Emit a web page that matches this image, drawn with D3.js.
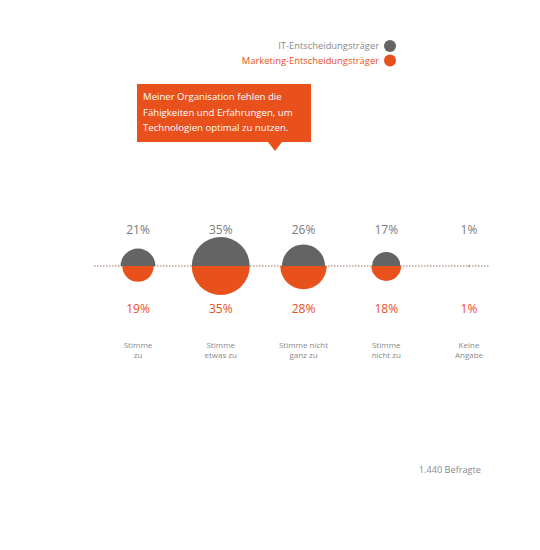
<!DOCTYPE html>
<html>
<head>
<meta charset="utf-8">
<script src="https://cdn.jsdelivr.net/npm/d3@7"></script>
<style>
  body { margin: 0; background: #fff; }
  svg { display: block; font-family: "Open Sans", sans-serif; }
</style>
</head>
<body>
<svg id="chart" width="540" height="550"></svg>
<script>
const categories = ['Stimme zu', 'Stimme etwas zu', 'Stimme nicht ganz zu', 'Stimme nicht zu', 'Keine Angabe'];
const categoryLines = [['Stimme', 'zu'], ['Stimme', 'etwas zu'], ['Stimme nicht', 'ganz zu'], ['Stimme', 'nicht zu'], ['Keine', 'Angabe']];
const itValues = [21, 35, 26, 17, 1];
const marketingValues = [19, 35, 28, 18, 1];
const seriesNames = ['IT-Entscheidungsträger', 'Marketing-Entscheidungsträger'];
const statement = ['Meiner Organisation fehlen die', 'Fähigkeiten und Erfahrungen, um', 'Technologien optimal zu nutzen.'];
const respondents = '1.440 Befragte';

const grey = '#646464';
const orange = '#e8501c';
const textGrey = '#7a7a7a';

const svg = d3.select('#chart');
const baseY = 266;

const x = d3.scalePoint()
    .domain(categories)
    .range([138, 469]);
const r = d3.scaleLinear()
    .domain([0, 35])
    .range([0, 29]);

// legend
const legend = svg.append('g').attr('class', 'legend');
seriesNames.forEach((name, i) => {
  const y = 46 + i * 14.5;
  legend.append('text')
      .attr('x', 379)
      .attr('y', y)
      .attr('dy', '0.35em')
      .attr('text-anchor', 'end')
      .attr('font-size', 9.4)
      .style('fill', i === 0 ? '#8a8a8a' : orange)
      .text(name);
  legend.append('circle')
      .attr('cx', 390)
      .attr('cy', y)
      .attr('r', 6)
      .style('fill', i === 0 ? grey : orange);
});

// statement box
const box = svg.append('g').attr('class', 'statement');
box.append('path')
    .attr('d', 'M137,84 H311 V142 H282 L275,151 L268,142 H137 Z')
    .style('fill', orange);
box.selectAll('text')
  .data(statement)
  .enter()
  .append('text')
    .attr('x', 143)
    .attr('y', (d, i) => 97 + i * 15.5)
    .attr('dy', '0.35em')
    .attr('font-size', 9.6)
    .style('fill', '#fff')
    .text(d => d);

// dotted baseline
svg.append('line')
    .attr('x1', 94)
    .attr('x2', 490)
    .attr('y1', baseY)
    .attr('y2', baseY)
    .style('stroke', '#a07060')
    .style('stroke-width', 1)
    .style('stroke-dasharray', '1.5,1.5');

const halfArc = (rad, top) => d3.arc()
    .innerRadius(0)
    .outerRadius(rad)
    .startAngle(top ? -Math.PI / 2 : Math.PI / 2)
    .endAngle(top ? Math.PI / 2 : Math.PI * 1.5)();

const groups = svg.selectAll('.item')
  .data(categories.map((c, i) => ({c, lines: categoryLines[i], it: itValues[i], mk: marketingValues[i]})))
  .enter()
  .append('g')
    .attr('class', 'item')
    .attr('transform', d => `translate(${x(d.c)},${baseY})`);

groups.append('path')
    .attr('d', d => halfArc(r(d.it), true))
    .style('fill', grey);
groups.append('path')
    .attr('d', d => halfArc(r(d.mk), false))
    .style('fill', orange);

groups.append('text')
    .attr('y', -36)
    .attr('dy', '0.35em')
    .attr('text-anchor', 'middle')
    .attr('font-size', 12)
    .style('fill', textGrey)
    .text(d => `${d.it}%`);
groups.append('text')
    .attr('y', 43)
    .attr('dy', '0.35em')
    .attr('text-anchor', 'middle')
    .attr('font-size', 12)
    .style('fill', orange)
    .text(d => `${d.mk}%`);

groups.each(function (d) {
  d3.select(this).selectAll('.cat')
    .data(d.lines)
    .enter()
    .append('text')
      .attr('class', 'cat')
      .attr('y', (l, i) => 79 + i * 10)
      .attr('dy', '0.35em')
      .attr('text-anchor', 'middle')
      .attr('font-size', 8)
      .style('fill', '#8a8a8a')
      .text(l => l);
});

svg.append('text')
    .attr('x', 481)
    .attr('y', 470)
    .attr('dy', '0.35em')
    .attr('text-anchor', 'end')
    .attr('font-size', 9.2)
    .style('fill', '#8a8a8a')
    .text(respondents);
</script>
</body>
</html>
